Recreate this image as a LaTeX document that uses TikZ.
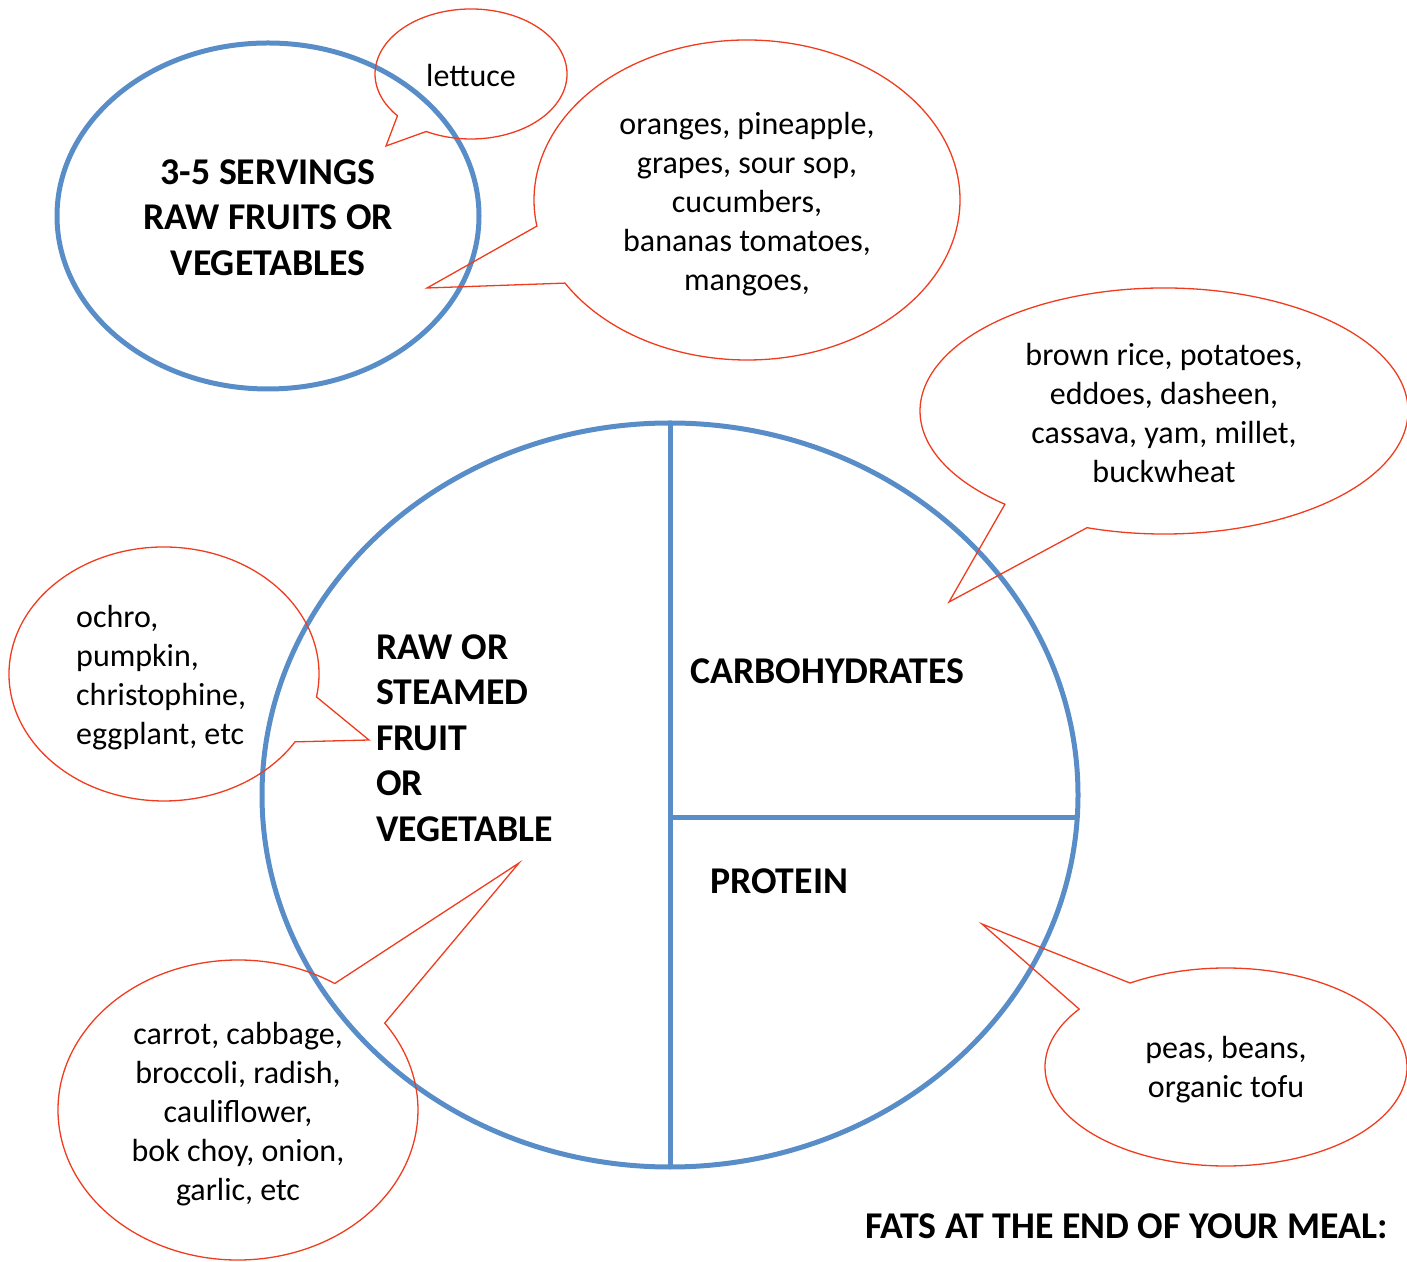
\documentclass[tikz,border=0pt]{standalone}
\usepackage{fontspec}
\setmainfont{Carlito}
\begin{document}
\begin{tikzpicture}[x=1pt,y=1pt,
  blueline/.style={draw={rgb,255:red,88;green,141;blue,200},line width=5pt},
  bubble/.style={draw={rgb,255:red,240;green,60;blue,30},line width=1.3pt,line join=miter},
  reg/.style={inner sep=0pt,font=\fontsize{32}{39}\selectfont},
  bld/.style={inner sep=0pt,font=\fontsize{37.8}{45.5}\selectfont\bfseries}]
\useasboundingbox (0,0) rectangle (1407,1261);
% blue shapes
\draw[blueline] (268,1045) ellipse[x radius=211,y radius=173];
\draw[blueline] (670,466) ellipse[x radius=408,y radius=372];
\coordinate (vt) at (670,838);
\coordinate (vb) at (670,94);
\coordinate (hl) at (670,443);
\coordinate (hr) at (1078,443);
\draw[blueline] (vt) -- (vb);
\draw[blueline] (hl) -- (hr);
% callout bubbles
\coordinate (c1) at (471,1187); \coordinate (t1) at (386,1115);
\draw[bubble] (c1) ++(242.2:96 and 65) arc[start angle=242.2,end angle=580,x radius=96,y radius=65] -- (t1) -- cycle;
\coordinate (c2) at (747,1061); \coordinate (t2) at (427,973);
\draw[bubble] (c2) ++(211.3:213 and 160) arc[start angle=211.3,end angle=549.4,x radius=213,y radius=160] -- (t2) -- cycle;
\coordinate (c3) at (1164,850); \coordinate (t3) at (949,659);
\draw[bubble] (c3) ++(251.6:244 and 123) arc[start angle=251.6,end angle=589.3,x radius=244,y radius=123] -- (t3) -- cycle;
\coordinate (c4) at (164,587); \coordinate (t4) at (369,521);
\draw[bubble] (c4) ++(349.6:155 and 127) arc[start angle=349.6,end angle=687.7,x radius=155,y radius=127] -- (t4) -- cycle;
\coordinate (c5) at (238,151); \coordinate (t5) at (519,398);
\draw[bubble] (c5) ++(57.5:180 and 150) arc[start angle=57.5,end angle=395.4,x radius=180,y radius=150] -- (t5) -- cycle;
\coordinate (c6) at (1226,194); \coordinate (t6) at (982,337);
\draw[bubble] (c6) ++(144.2:181 and 99) arc[start angle=144.2,end angle=482,x radius=181,y radius=99] -- (t6) -- cycle;
% texts
\node[reg] (lettuce) at (471,1185) {lettuce};
\node[reg,align=center] (fruits) at (747,1057) {oranges, pineapple,\\grapes, sour sop,\\cucumbers,\\bananas tomatoes,\\mangoes,};
\node[bld,align=center] (servings) at (268,1043.5) {3-5 SERVINGS\\RAW FRUITS OR\\VEGETABLES};
\node[reg,align=center] (carbs) at (1164,848) {brown rice, potatoes,\\eddoes, dasheen,\\cassava, yam, millet,\\buckwheat};
\node[reg,align=left,anchor=west] (ochro) at (76,583.5) {ochro,\\pumpkin,\\christophine,\\eggplant, etc};
\node[bld,align=left,anchor=west] (rawsteam) at (376,523) {RAW OR\\STEAMED\\FRUIT\\OR\\VEGETABLE};
\node[bld,anchor=west] (carbo) at (690,589.5) {CARBOHYDRATES};
\node[bld,anchor=west] (protein) at (710,379.5) {PROTEIN};
\node[reg,align=center] (carrot) at (238,147) {carrot, cabbage,\\broccoli, radish,\\cauliflower,\\bok choy, onion,\\garlic, etc};
\node[reg,align=center] (peas) at (1226,191) {peas, beans,\\organic tofu};
\node[bld,anchor=west] (fats) at (865,34.5) {FATS AT THE END OF YOUR MEAL:};
\end{tikzpicture}
\end{document}
